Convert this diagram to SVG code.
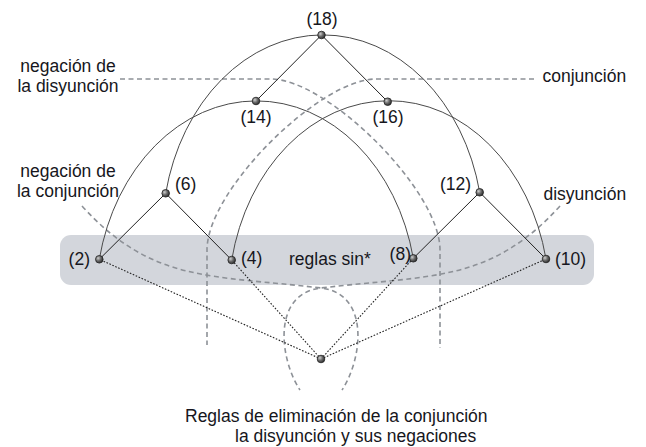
<svg xmlns="http://www.w3.org/2000/svg" width="646" height="447" viewBox="0 0 646 447">
<defs>
<radialGradient id="ball" cx="0.35" cy="0.35" r="0.7">
<stop offset="0" stop-color="#cfcfcf"/>
<stop offset="0.5" stop-color="#6a6a6a"/>
<stop offset="1" stop-color="#2a2a2a"/>
</radialGradient>
</defs>
<style>
text{font-family:"Liberation Sans",Arial,Helvetica,sans-serif;font-size:17.5px;fill:#161620}
.dash{fill:none;stroke:#8d9197;stroke-width:1.6;stroke-dasharray:5 3.5}
.arc{fill:none;stroke:#4a4a4a;stroke-width:1}
.edge{fill:none;stroke:#222;stroke-width:1}
.dot{fill:none;stroke:#222;stroke-width:1.1;stroke-dasharray:1.6 1.6}
.n{fill:url(#ball);stroke:#222;stroke-width:0.8}
.m{text-anchor:middle}
.e{text-anchor:end}
</style>
<rect id="reglas-sin" x="60" y="235" width="534" height="50" rx="11" fill="#d3d6dc"/>
<g id="guides">
<path class="dash" d="M120 79 H271 C327 79 440 190 440 250 V348"/>
<path class="dash" d="M534 79 H376 C320 79 207 190 207 250 V345"/>
<path class="dash" d="M82 206 C152 283 211 274.8 321 288 C371 294 362 360 342 390"/>
<path class="dash" d="M560 206 C490 283 431 274.8 321 288 C271 294 280 360 300 390"/>
</g>
<g id="connectors">
<path class="arc" d="M165.7 193.3 A160.6 200 0 0 1 479.7 192.3"/>
<path class="arc" d="M99.3 259.3 A160.6 200 0 0 1 413.3 258.3"/>
<path class="arc" d="M231.7 260 A160.6 200 0 0 1 546 259"/>
<path class="edge" d="M321.5 35 L256 101 M321.5 35 L387.7 101.7"/>
<path class="edge" d="M165.7 193.3 L99.3 259.3 M165.7 193.3 L231.7 260"/>
<path class="edge" d="M479.7 192.3 L413.3 258.3 M479.7 192.3 L546 259"/>
<path class="dot" d="M321 359 L99.3 259.3 M321 359 L231.7 260 M321 359 L413.3 258.3 M321 359 L546 259"/>
</g>
<g id="n18"><circle class="n" cx="321.5" cy="35" r="3.8"/><text class="m" x="322" y="24.5">(18)</text></g>
<g id="n14"><circle class="n" cx="256" cy="101" r="3.8"/><text class="m" x="256" y="123">(14)</text></g>
<g id="n16"><circle class="n" cx="387.7" cy="101.7" r="3.8"/><text class="m" x="388" y="123">(16)</text></g>
<g id="n6"><circle class="n" cx="165.7" cy="193.3" r="3.8"/><text x="175" y="190">(6)</text></g>
<g id="n12"><circle class="n" cx="479.7" cy="192.3" r="3.8"/><text class="e" x="471" y="190">(12)</text></g>
<g id="n2"><circle class="n" cx="99.3" cy="259.3" r="3.8"/><text class="e" x="90" y="265">(2)</text></g>
<g id="n4"><circle class="n" cx="231.7" cy="260" r="3.8"/><text x="241" y="263.5">(4)</text></g>
<g id="n8"><circle class="n" cx="413.3" cy="258.3" r="3.8"/><text class="e" x="411" y="260">(8)</text></g>
<g id="n10"><circle class="n" cx="546" cy="259" r="3.8"/><text x="555" y="265">(10)</text></g>
<g id="nbottom"><circle class="n" cx="321" cy="359" r="3.8"/></g>
<g id="labels">
<text class="m" x="68" y="72">negación de</text>
<text class="m" x="68" y="92">la disyunción</text>
<text class="m" x="68" y="177">negación de</text>
<text class="m" x="68" y="197">la conjunción</text>
<text x="542.5" y="82">conjunción</text>
<text x="543.5" y="200">disyunción</text>
<text x="289" y="265">reglas sin*</text>
<text x="185" y="421.5">Reglas de eliminación de la conjunción</text>
<text x="235" y="441.5">la disyunción y sus negaciones</text>
</g>
</svg>
